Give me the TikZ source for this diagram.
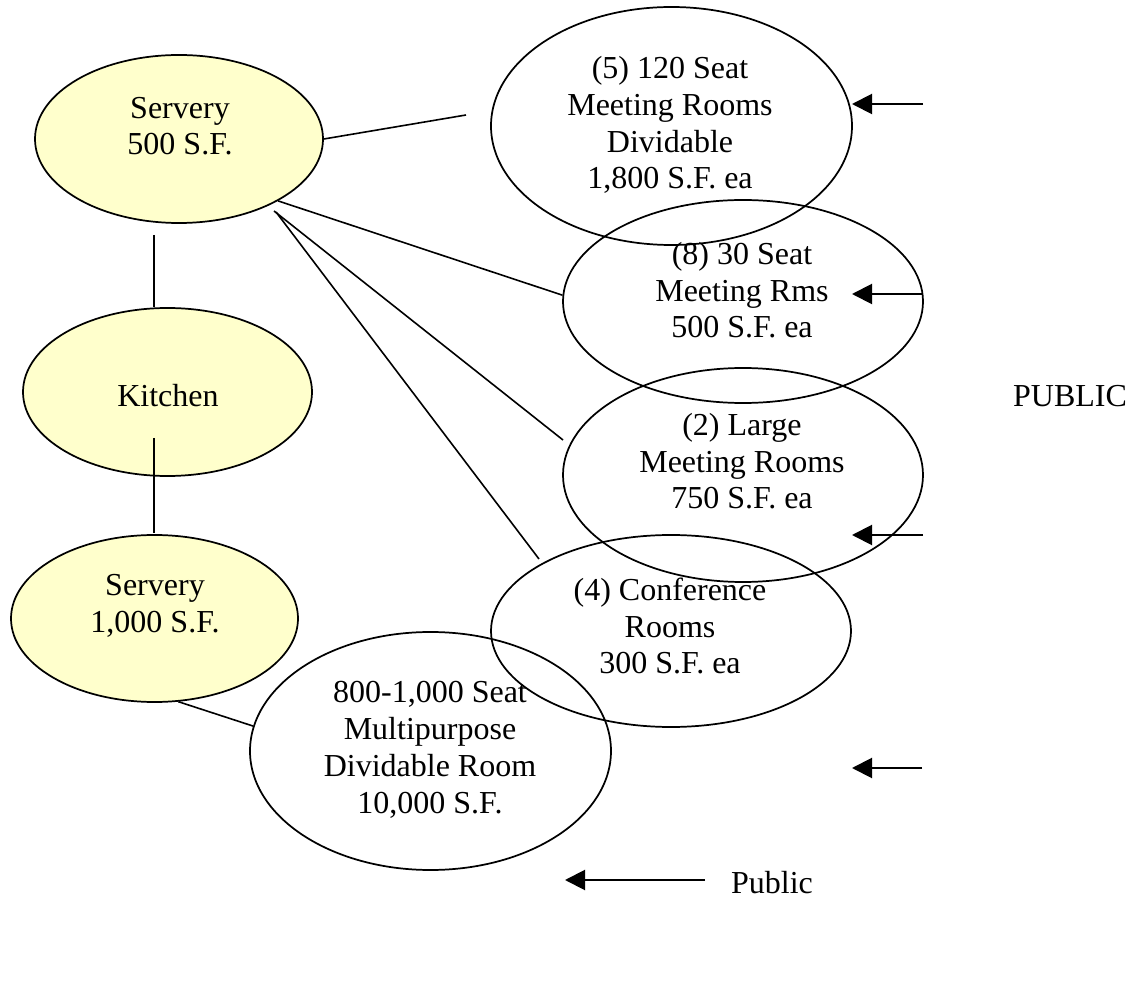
\documentclass[tikz,border=0pt]{standalone}
\usepackage{fontspec}
\setmainfont{Liberation Serif}
\usetikzlibrary{arrows.meta,shapes.geometric}
\definecolor{paleyellow}{HTML}{FFFFCC}
\begin{document}
\begin{tikzpicture}[x=0.375pt,y=-0.375pt,
  every node/.style={font=\fontsize{12}{13.8}\selectfont},
  room/.style={ellipse,draw,line width=0.65pt,inner sep=0pt},
  foodroom/.style={room,fill=paleyellow},
  size/.style 2 args={minimum width=#1*0.375pt,minimum height=#2*0.375pt},
  lbl/.style={align=center,anchor=base,inner sep=0pt},
  link/.style={line width=0.6pt},
  entry/.style={line width=0.75pt,-{Triangle[length=7.5pt,width=7.5pt]}},
]
\useasboundingbox (0,0) rectangle (1133,987);

% food service spaces
\node[foodroom,size={288}{168}] (s1) at (179,139) {};
\node[foodroom,size={289}{168}] (kitchen) at (167.5,392) {};
\node[foodroom,size={287}{167}] (s2) at (154.5,618.5) {};

% meeting spaces
\node[room,size={361}{238}] (m1) at (671.5,126) {};
\node[room,size={360}{203}] (m2) at (743,301.5) {};
\node[room,size={360}{214}] (m3) at (743,475) {};
\node[room,size={360}{192}] (m4) at (671,631) {};
\node[room,size={361}{238}] (mp) at (430.5,751) {};

% labels (base anchor sits on the last line)
\node[lbl] (s1t) at (180,155) {Servery\\500 S.F.};
\node[lbl] (kt) at (168,407) {Kitchen};
\node[lbl] (s2t) at (155,632) {Servery\\1,000 S.F.};
\node[lbl] (m1t) at (670,189) {(5) 120 Seat\\Meeting Rooms\\Dividable\\1,800 S.F. ea};
\node[lbl] (m2t) at (742,338) {(8) 30 Seat\\Meeting Rms\\500 S.F. ea};
\node[lbl] (m3t) at (742,509) {(2) Large\\Meeting Rooms\\750 S.F. ea};
\node[lbl] (m4t) at (670,674) {(4) Conference\\Rooms\\300 S.F. ea};
\node[lbl] (mpt) at (430,813) {800-1,000 Seat\\Multipurpose\\Dividable Room\\10,000 S.F.};
\node[lbl] (pub) at (1070,407) {PUBLIC};
\node[lbl] (key) at (772,893) {Public};

% connector ends
\coordinate (sk1) at (154,235);
\coordinate (sk2) at (154,307);
\coordinate (ks1) at (154,438);
\coordinate (ks2) at (154,533);
\coordinate (m1in) at (466,115);
\coordinate (fork3) at (274,211);
\coordinate (fork4) at (276,212);
\coordinate (m3in) at (563,440);
\coordinate (m4in) at (539,559);

% adjacencies
\draw[link] (sk1) -- (sk2);
\draw[link] (ks1) -- (ks2);
\draw[link] (s1.east) -- (m1in);
\draw[link] (s1.-32.6) -- (m2.178.7);
\draw[link] (fork3) -- (m3in);
\draw[link] (fork4) -- (m4in);
\draw[link] (s2.-74.5) -- (mp.172.4);

% public entries
\coordinate (e1a) at (923,104); \coordinate (e1b) at (852,104);
\coordinate (e2a) at (922,294); \coordinate (e2b) at (852,294);
\coordinate (e3a) at (923,535); \coordinate (e3b) at (852,535);
\coordinate (e4a) at (922,768); \coordinate (e4b) at (852,768);
\coordinate (e5a) at (705,880); \coordinate (e5b) at (565,880);
\draw[entry] (e1a) -- (e1b);
\draw[entry] (e2a) -- (e2b);
\draw[entry] (e3a) -- (e3b);
\draw[entry] (e4a) -- (e4b);
\draw[entry] (e5a) -- (e5b);
\end{tikzpicture}
\end{document}
